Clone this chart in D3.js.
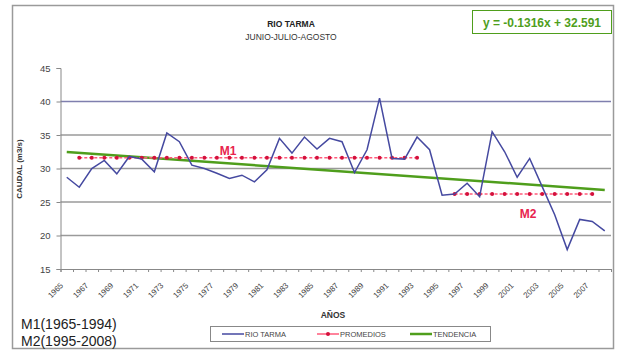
<!DOCTYPE html>
<html><head><meta charset="utf-8">
<script src="https://cdn.jsdelivr.net/npm/d3@7"></script>
<style>
body{margin:0;background:#fff;}
svg{display:block;font-family:"Liberation Sans",Arial,sans-serif;}
</style></head>
<body><svg id="c" width="623" height="352"></svg>
<script>
const years = d3.range(1965, 2009);
const caudal = [28.7,27.2,30.0,31.2,29.2,31.8,31.4,29.5,35.3,34.0,
                30.5,30.0,29.3,28.5,29.0,28.0,29.8,34.5,32.3,34.7,
                32.9,34.5,34.0,29.4,32.8,40.5,31.5,31.4,34.7,32.8,
                26.0,26.2,27.8,25.8,35.5,32.5,28.7,31.5,27.3,23.1,
                17.9,22.4,22.1,20.7];
// promedios as drawn (M1 and M2 segments)
const m1Years = d3.range(1966, 1994);
const m1Value = 31.6;
const m2Years = d3.range(1996, 2008);
const m2Value = 26.2;
// trend line end points (1965, 2008)
const trendYears = [1965, 2008];
const trendValues = [32.46, 26.80];
const yTicks = [15,20,25,30,35,40,45];
const xLabelYears = d3.range(1965, 2009, 2);
const legendNames = ["RIO TARMA","PROMEDIOS","TENDENCIA"];

const svg = d3.select("#c");
const blue = "#4549a0", red = "#e8244e", green = "#4f9e1c";

// outer frame
svg.append("rect").attr("x",12.5).attr("y",5.5).attr("width",601).attr("height",343)
  .attr("fill","none").attr("stroke","#9a9a9a").attr("stroke-width",1.5);

const x = d3.scaleBand().domain(years).range([60.5, 611]).padding(0);
const cx = d => x(d) + x.bandwidth()/2;
const y = d3.scaleLinear().domain([15,45]).range([269, 68]);

// gridlines
svg.append("g").selectAll("line").data(yTicks.filter(t=>t>15 && t<45)).join("line")
  .attr("x1",60.5).attr("x2",611).attr("y1",d=>y(d)).attr("y2",d=>y(d))
  .attr("stroke",d=>d===40?"#7f7fae":"#9a9a9a").attr("stroke-width",1.5);

// y axis
const yAxis = svg.append("g").attr("transform","translate(60.5,0)")
  .call(d3.axisLeft(y).tickValues(yTicks).tickSize(4).tickPadding(6));
yAxis.select(".domain").attr("stroke","#888");
yAxis.selectAll(".tick line").attr("stroke","#888");
yAxis.selectAll("text").attr("font-size",9.5).attr("fill","#444");

// x axis (ticks at band boundaries)
const xi = d3.scaleLinear().domain([0, years.length]).range([60.5, 611]);
const xAxis = svg.append("g").attr("transform","translate(0,269)")
  .call(d3.axisBottom(xi).tickValues(d3.range(0, years.length+1)).tickSize(3).tickFormat(""));
xAxis.select(".domain").attr("stroke","#888");
xAxis.selectAll(".tick line").attr("stroke","#888");

// x labels rotated
svg.append("g").selectAll("text").data(xLabelYears).join("text")
  .attr("transform",d=>`translate(${cx(d)-3},${286}) rotate(-45)`)
  .attr("text-anchor","end").attr("font-size",8).attr("fill","#444")
  .text(d=>d);

// trend line
svg.append("path")
  .datum(trendYears.map((yr,i)=>[yr, trendValues[i]]))
  .attr("d", d3.line().x(d=>cx(d[0])).y(d=>y(d[1])))
  .attr("fill","none").attr("stroke",green).attr("stroke-width",2.5);

// promedios
function drawMean(yrs, val){
  svg.append("path").datum(yrs)
    .attr("d", d3.line().x(d=>cx(d)).y(()=>y(val)))
    .attr("fill","none").attr("stroke","#ff5a7a").attr("stroke-width",1.5)
    .attr("stroke-dasharray","3,2");
  svg.append("g").selectAll("circle").data(yrs).join("circle")
    .attr("cx",d=>cx(d)).attr("cy",y(val)).attr("r",2).attr("fill","#d4103c");
}
drawMean(m1Years, m1Value);
drawMean(m2Years, m2Value);

// main series
svg.append("path").datum(caudal)
  .attr("d", d3.line().x((d,i)=>cx(years[i])).y(d=>y(d)))
  .attr("fill","none").attr("stroke",blue).attr("stroke-width",1.5)
  .attr("stroke-linejoin","miter");

// M1, M2 labels
svg.append("text").attr("x",228).attr("y",155).attr("text-anchor","middle")
  .attr("font-size",12).attr("font-weight","bold").attr("fill",red).text("M1");
svg.append("text").attr("x",528).attr("y",218).attr("text-anchor","middle")
  .attr("font-size",12).attr("font-weight","bold").attr("fill",red).text("M2");

// titles
svg.append("text").attr("x",291).attr("y",27).attr("text-anchor","middle")
  .attr("font-size",8.5).attr("font-weight","bold").attr("fill","#222").text("RIO TARMA");
svg.append("text").attr("x",291).attr("y",40).attr("text-anchor","middle")
  .attr("font-size",8.5).attr("fill","#333").text("JUNIO-JULIO-AGOSTO");

// equation box
svg.append("rect").attr("x",472.5).attr("y",10.5).attr("width",139).attr("height",23)
  .attr("fill","#fff").attr("stroke",green).attr("stroke-width",1);
svg.append("text").attr("x",542).attr("y",26.5).attr("text-anchor","middle")
  .attr("font-size",12).attr("font-weight","bold").attr("fill",green)
  .text("y = -0.1316x + 32.591");

// axis titles
svg.append("text").attr("transform","translate(22,169) rotate(-90)")
  .attr("text-anchor","middle").attr("font-size",8).attr("font-weight","bold")
  .attr("fill","#333").text("CAUDAL (m3/s)");
svg.append("text").attr("x",333).attr("y",318).attr("text-anchor","middle")
  .attr("font-size",8.5).attr("font-weight","bold").attr("fill","#333").text("AÑOS");

// legend
const lg = svg.append("g");
lg.append("rect").attr("x",210.5).attr("y",326.5).attr("width",280).attr("height",15)
  .attr("fill","#fff").attr("stroke","#888");
const lx = [222, 317, 410];
const lcol = [blue, "#ff5a7a", green];
lg.selectAll("line.l").data(legendNames).join("line")
  .attr("x1",(d,i)=>lx[i]).attr("x2",(d,i)=>lx[i]+22)
  .attr("y1",334).attr("y2",334)
  .attr("stroke",(d,i)=>lcol[i]).attr("stroke-width",(d,i)=>i===2?2.5:1.5);
lg.append("circle").attr("cx",lx[1]+11).attr("cy",334).attr("r",2).attr("fill","#d4103c");
lg.selectAll("text").data(legendNames).join("text")
  .attr("x",(d,i)=>lx[i]+23).attr("y",337)
  .attr("font-size",7.5).attr("fill","#444").text(d=>d);

// bottom-left notes
svg.append("text").attr("x",21).attr("y",329).attr("font-size",14).attr("fill","#222").text("M1(1965-1994)");
svg.append("text").attr("x",21).attr("y",346).attr("font-size",14).attr("fill","#222").text("M2(1995-2008)");
</script></body></html>
